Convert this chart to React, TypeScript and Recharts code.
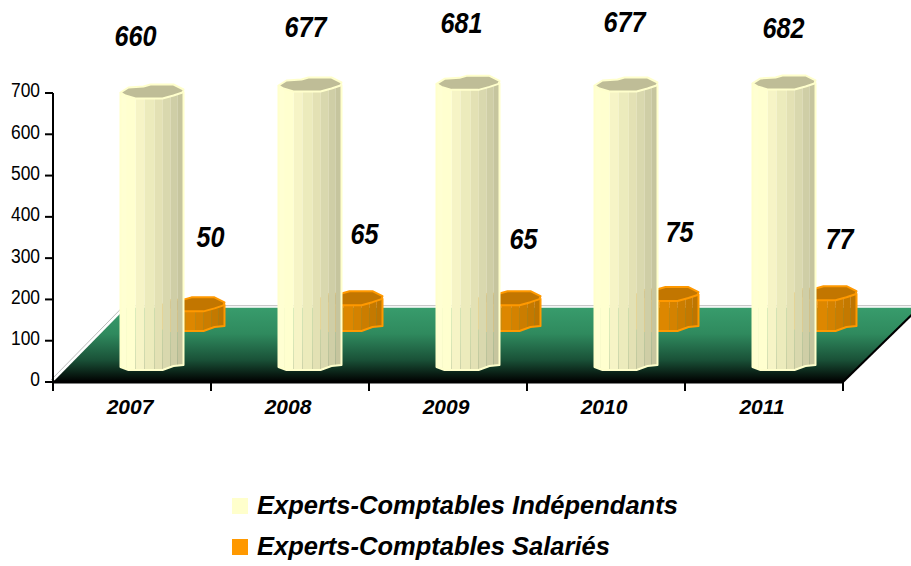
import { Bar, BarChart, LabelList, ReferenceArea, XAxis, YAxis } from "recharts";

const years = ["2007", "2008", "2009", "2010", "2011"];
const independants = [660, 677, 681, 677, 682];
const salaries = [50, 65, 65, 75, 77];
const yTicks = [0, 100, 200, 300, 400, 500, 600, 700];
const NAME_INDEPENDANTS = "Experts-Comptables Indépendants";
const NAME_SALARIES = "Experts-Comptables Salariés";

const chartData = years.map((year, i) => ({
  year,
  independants: independants[i],
  salaries: salaries[i],
}));

// the value labels were placed by hand in the original, so each one has its own nudge
const independantsNudge = [
  [3, -64],
  [15, -65],
  [13, -68],
  [18, -70],
  [19, -62],
];
const salariesNudge = [
  [78, -114],
  [74, -111],
  [75, -106],
  [73, -109],
  [75, -101],
];

const CHART_W = 911;
const CHART_H = 566;
const MARGIN = { top: 93, right: 68, left: 13, bottom: 154 };
const Y_AXIS_W = 40;
const BAND_W = (CHART_W - MARGIN.left - MARGIN.right - Y_AXIS_W) / years.length;
const BAR_W = 63;
const CREAM = "#ffffcc";
const ORANGE = "#ff9900";
const FONT = "'Liberation Sans', Arial, sans-serif";

// share of the bar width where each facet ends
const facetEdges = [0, 0.083, 0.238, 0.381, 0.54, 0.667, 0.794, 0.905, 1];
const creamFacets = ["#ffffd2", "#ffffcf", "#f6f4c6", "#ecebbc", "#e3e1b4", "#d9d8ae", "#cfcea6", "#c6c59e"];
const orangeFacets = ["#f09400", "#ee9100", "#e68c00", "#dd8700", "#d48200", "#cb7d00", "#c47900", "#be7500"];

// low-poly outline of the rim, as [share of width, px from the rim centre]
const rimTop = [[0, 1], [0.127, -4], [0.365, -5], [0.476, -7], [0.841, -7], [1, -2], [0.984, 1]];
const rimBottom = [[0.841, 4], [0.667, 7], [0.238, 7], [0.079, 4]];
const baseEdge = [[0, 0], [0.127, 3], [0.667, 3], [0.841, -1], [1, -2]];

const Cylinder = (props: any) => {
  const { x, y, width, height, dx, dy, facets, rimFill, stroke } = props;
  const left = x + dx;
  const top = y + dy - 3;
  const bottom = y + height + dy;
  const rim = [...rimTop, ...rimBottom].map(([u, v]) => `${left + u * width},${top + v}`).join(" ");
  const base = baseEdge.map(([u, v]) => `${left + u * width},${bottom + v}`);
  const frontTop = [[0, 1], ...[...rimBottom].reverse(), [0.984, 1]];
  const lerp = (pts: number[][], u: number) => {
    for (let i = 1; i < pts.length; i++) {
      if (u <= pts[i][0]) {
        const t = (u - pts[i - 1][0]) / (pts[i][0] - pts[i - 1][0] || 1);
        return pts[i - 1][1] + t * (pts[i][1] - pts[i - 1][1]);
      }
    }
    return pts[pts.length - 1][1];
  };
  return (
    <g>
      {facets.map((fill: string, i: number) => {
        const a = facetEdges[i];
        const b = facetEdges[i + 1];
        const xa = left + a * width + 0.3;
        const xb = left + b * width + 0.3;
        const points = [
          `${xa},${top + lerp(frontTop, a)}`,
          `${xb},${top + lerp(frontTop, b)}`,
          `${xb},${bottom + lerp(baseEdge, b)}`,
          `${xa},${bottom + lerp(baseEdge, a)}`,
        ].join(" ");
        return <polygon key={i} points={points} fill={fill} />;
      })}
      <polyline
        points={[`${left},${top + 1}`, ...base, `${left + width},${top}`].join(" ")}
        fill="none"
        stroke={stroke}
        strokeWidth={2}
        strokeLinejoin="round"
      />
      <polygon points={rim} fill={rimFill} stroke={stroke} strokeWidth={2} strokeLinejoin="round" />
    </g>
  );
};

const Floor = (props: any) => {
  const { x, y, width, height } = props;
  const shift = 76;
  const points = `${x},${y + height} ${x + width},${y + height} ${x + width + shift},${y} ${x + shift - 3},${y}`;
  return (
    <g>
      <defs>
        <linearGradient id="floorFill" x1="0" y1="0" x2="0" y2="1">
          <stop offset="0" stopColor="#389c6c" />
          <stop offset="0.35" stopColor="#2f8a5e" />
          <stop offset="0.7" stopColor="#1a5238" />
          <stop offset="1" stopColor="#000000" />
        </linearGradient>
      </defs>
      <polygon points={points} fill="url(#floorFill)" />
      <polyline
        points={`${x},${y + height} ${x + shift - 3},${y} ${x + width + shift},${y}`}
        fill="none"
        stroke="#bdbdbd"
        strokeWidth={1}
        transform="translate(-2,-2)"
      />
      <line x1={x + width} y1={y + height} x2={x + width + shift} y2={y} stroke="#000000" strokeWidth={2} />
    </g>
  );
};

const valueLabel = (nudges: number[][]) => (props: any) => {
  const { x, y, width, value, index } = props;
  const [dx, dy] = nudges[index];
  const cx = x + width / 2 + dx;
  const by = y + dy;
  return (
    <text
      transform={`translate(${cx},${by}) scale(0.84,1)`}
      textAnchor="middle"
      fontFamily={FONT}
      fontSize={30}
      fontStyle="italic"
      fontWeight="bold"
      fill="#000000"
    >
      {value}
    </text>
  );
};

// tick marks sit between the categories, the label stays a little left of the centre
const YearTick = ({ x, y, payload }: any) => (
  <g>
    <line x1={x - BAND_W / 2} y1={y} x2={x - BAND_W / 2} y2={y + 9} stroke="#000000" strokeWidth={2} />
    <line x1={x + BAND_W / 2} y1={y} x2={x + BAND_W / 2} y2={y + 9} stroke="#000000" strokeWidth={2} />
    <text
      x={x - 2}
      y={y + 32}
      textAnchor="middle"
      fontFamily={FONT}
      fontSize={21}
      fontStyle="italic"
      fontWeight="bold"
      fill="#000000"
    >
      {payload.value}
    </text>
  </g>
);

const ValueTick = ({ x, y, payload }: any) => (
  <g>
    <line x1={x + 5} y1={y} x2={x + 13} y2={y} stroke="#000000" strokeWidth={2} />
    <text
      transform={`translate(${x},${y - 3}) scale(0.83,1)`}
      textAnchor="end"
      dy="0.355em"
      fontFamily={FONT}
      fontSize={21}
      fill="#000000"
    >
      {payload.value}
    </text>
  </g>
);

const legendRows = [
  { name: NAME_INDEPENDANTS, color: CREAM },
  { name: NAME_SALARIES, color: ORANGE },
];

const App = () => {
  return (
    <div style={{ position: "absolute", left: 0, top: 0, width: CHART_W, height: CHART_H, background: "#ffffff", overflow: "hidden" }}>
      <BarChart
        width={CHART_W}
        height={CHART_H}
        data={chartData}
        margin={MARGIN}
        barSize={BAR_W}
        barGap={-BAR_W}
      >
        <XAxis
          dataKey="year"
          height={30}
          axisLine={{ stroke: "#000000", strokeWidth: 3 }}
          tickLine={false}
          tickSize={0}
          tickMargin={0}
          interval={0}
          tick={<YearTick />}
        />
        <YAxis
          width={Y_AXIS_W}
          domain={[0, 700]}
          ticks={yTicks}
          interval={0}
          axisLine={{ stroke: "#000000", strokeWidth: 2 }}
          tickLine={false}
          tickSize={8}
          tickMargin={5}
          tick={<ValueTick />}
        />
        <ReferenceArea y1={0} y2={180} shape={<Floor />} />
        <Bar
          dataKey="salaries"
          name={NAME_SALARIES}
          fill={ORANGE}
          isAnimationActive={false}
          shape={<Cylinder dx={60.5} dy={-54} facets={orangeFacets} rimFill="#c27600" stroke={ORANGE} />}
        >
          <LabelList dataKey="salaries" content={valueLabel(salariesNudge)} />
        </Bar>
        <Bar
          dataKey="independants"
          name={NAME_INDEPENDANTS}
          fill={CREAM}
          isAnimationActive={false}
          shape={<Cylinder dx={19.5} dy={-15} facets={creamFacets} rimFill="#bfbd97" stroke={CREAM} />}
        >
          <LabelList dataKey="independants" content={valueLabel(independantsNudge)} />
        </Bar>
      </BarChart>
      <div
        style={{
          position: "absolute",
          left: 232,
          top: 485,
          fontFamily: FONT,
          fontSize: 25.5,
          fontWeight: "bold",
          fontStyle: "italic",
          color: "#000000",
          whiteSpace: "nowrap",
        }}
      >
        {legendRows.map((row) => (
          <div key={row.name} style={{ display: "flex", alignItems: "center", height: 41 }}>
            <span style={{ width: 16, height: 16, background: row.color, marginRight: 9 }} />
            <span>{row.name}</span>
          </div>
        ))}
      </div>
    </div>
  );
};

export default App;
